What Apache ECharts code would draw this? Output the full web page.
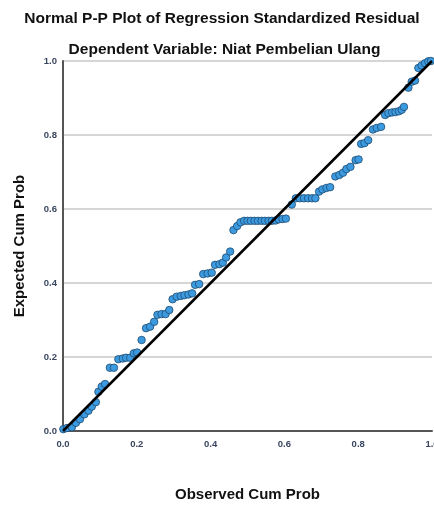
<!DOCTYPE html>
<html>
<head>
<meta charset="utf-8">
<script src="https://cdn.jsdelivr.net/npm/echarts@6/dist/echarts.min.js"></script>
<style>html,body{margin:0;padding:0;background:#fff}#c{width:434px;height:505px}</style>
</head>
<body>
<div id="c"></div>
<script>
const titleText = "Normal P-P Plot of Regression Standardized Residual";
const subtitleText = "Dependent Variable: Niat Pembelian Ulang";
const xName = "Observed Cum Prob";
const yName = "Expected Cum Prob";
const tickLabels = ["0.0", "0.2", "0.4", "0.6", "0.8", "1.0"];

const observed = [
  0.001, 0.011, 0.024, 0.035, 0.046, 0.058, 0.069, 0.078, 0.089, 0.096,
  0.105, 0.114, 0.127, 0.138, 0.150, 0.162, 0.171, 0.182, 0.192, 0.201,
  0.213, 0.225, 0.236, 0.247, 0.256, 0.267, 0.278, 0.288, 0.297, 0.308,
  0.319, 0.329, 0.340, 0.350, 0.358, 0.369, 0.380, 0.392, 0.403, 0.412,
  0.424, 0.433, 0.442, 0.453, 0.462, 0.472, 0.481, 0.491, 0.500, 0.509,
  0.519, 0.528, 0.538, 0.547, 0.557, 0.566, 0.576, 0.585, 0.595, 0.604,
  0.620, 0.631, 0.642, 0.653, 0.664, 0.675, 0.684, 0.694, 0.703, 0.714,
  0.724, 0.738, 0.749, 0.759, 0.768, 0.779, 0.793, 0.801, 0.808, 0.817,
  0.827, 0.840, 0.850, 0.862, 0.873, 0.882, 0.892, 0.901, 0.910, 0.918,
  0.924, 0.936, 0.945, 0.954, 0.963, 0.972, 0.981, 0.990, 0.997
];
const expected = [
  0.005, 0.008, 0.010, 0.022, 0.032, 0.045, 0.055, 0.066, 0.078, 0.106,
  0.120, 0.127, 0.171, 0.171, 0.194, 0.196, 0.198, 0.198, 0.210, 0.212,
  0.246, 0.278, 0.282, 0.295, 0.314, 0.316, 0.316, 0.327, 0.356, 0.363,
  0.365, 0.367, 0.369, 0.372, 0.395, 0.397, 0.424, 0.426, 0.428, 0.449,
  0.451, 0.455, 0.469, 0.485, 0.543, 0.554, 0.564, 0.568, 0.568, 0.568,
  0.568, 0.568, 0.568, 0.568, 0.568, 0.568, 0.569, 0.572, 0.573, 0.574,
  0.612, 0.629, 0.629, 0.629, 0.629, 0.629, 0.629, 0.647, 0.653, 0.657,
  0.659, 0.688, 0.692, 0.698, 0.708, 0.714, 0.732, 0.734, 0.776, 0.778,
  0.786, 0.815, 0.819, 0.822, 0.854, 0.859, 0.861, 0.862, 0.864, 0.868,
  0.876, 0.928, 0.944, 0.947, 0.981, 0.988, 0.994, 0.999, 1.000
];
const refLine = [[0, 0], [1, 1]];

const points = observed.map((v, i) => [v, expected[i]]);
const font = "Liberation Sans, Arial, sans-serif";

const chart = echarts.init(document.getElementById('c'), null, {renderer: 'canvas'});
chart.setOption({
  animation: false,
  backgroundColor: '#ffffff',
  title: [
    {text: titleText, left: 217, top: 6, textAlign: 'center',
     textStyle: {fontFamily: font, fontSize: 15.5, fontWeight: 'bold', color: '#111'}},
    {text: subtitleText, left: 219.5, top: 37, textAlign: 'center',
     textStyle: {fontFamily: font, fontSize: 15.5, fontWeight: 'bold', color: '#111'}}
  ],
  grid: {left: 63, right: 2, top: 61, bottom: 74, containLabel: false, outerBoundsMode: 'none'},
  xAxis: {
    type: 'value', min: 0, max: 1, interval: 0.2,
    name: xName, nameLocation: 'middle', nameGap: 56,
    nameTextStyle: {fontFamily: font, fontSize: 15, fontWeight: 'bold', color: '#111'},
    axisLine: {show: true, onZero: false, lineStyle: {color: '#555', width: 2}},
    axisTick: {show: false},
    splitLine: {show: false},
    axisLabel: {fontFamily: font, fontSize: 9.5, fontWeight: 'bold', color: '#3a4660', margin: 8,
      formatter: v => tickLabels[Math.round(v * 5)]}
  },
  yAxis: {
    type: 'value', min: 0, max: 1, interval: 0.2,
    name: yName, nameLocation: 'middle', nameGap: 36,
    nameTextStyle: {fontFamily: font, fontSize: 15, fontWeight: 'bold', color: '#111'},
    axisLine: {show: true, onZero: false, lineStyle: {color: '#555', width: 2}},
    axisTick: {show: false},
    splitLine: {show: true, lineStyle: {color: '#c8c8c8', width: 1.5}},
    axisLabel: {fontFamily: font, fontSize: 9.5, fontWeight: 'bold', color: '#3a4660', margin: 6,
      formatter: v => tickLabels[Math.round(v * 5)]}
  },
  series: [
    {type: 'scatter', data: points, symbol: 'circle', symbolSize: 7.5,
     itemStyle: {color: '#3c9be0', borderColor: '#1e4a70', borderWidth: 0.8, opacity: 1},
     z: 2},
    {type: 'line', data: refLine, symbol: 'none', lineStyle: {color: '#000', width: 2.5},
     z: 3, silent: true}
  ]
});
</script>
</body>
</html>
